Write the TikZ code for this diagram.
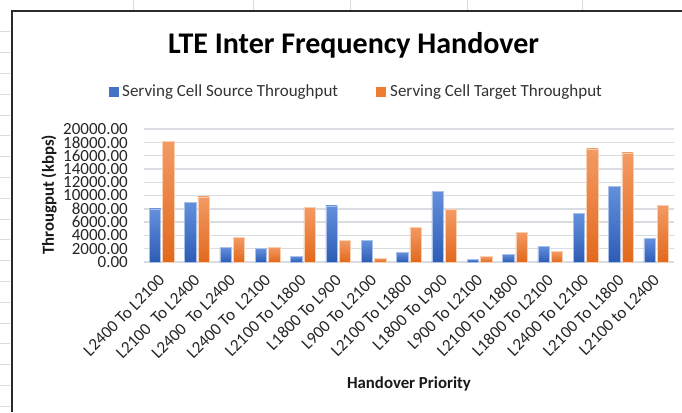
\documentclass[tikz,border=0pt]{standalone}
\usepackage{fontspec}
\setmainfont{Carlito}
\definecolor{gridgray}{HTML}{D9DCE1}
\definecolor{sheetgray}{HTML}{DADADA}
\definecolor{borderdark}{HTML}{2B2B2B}
\definecolor{bluetop}{HTML}{6390DC}
\definecolor{bluebot}{HTML}{2D5CB5}
\definecolor{blueedge}{HTML}{A9C0E8}
\definecolor{orangetop}{HTML}{F39A64}
\definecolor{orangebot}{HTML}{E2691D}
\definecolor{orangeedge}{HTML}{F9CFB2}
\definecolor{legblue}{HTML}{4472C4}
\definecolor{legorange}{HTML}{ED7D31}
\begin{document}
\begin{tikzpicture}[x=1pt,y=-1pt,
  grid/.style={draw=gridgray,line width=1.4pt},
  sheettick/.style={draw=sheetgray,line width=0.8pt},
  border/.style={draw=borderdark,line width=2pt},
  ticklbl/.style={anchor=east,inner sep=0pt,font=\fontsize{17}{17}\selectfont,text=black!85},
  catlbl/.style={anchor=east,rotate=45,inner sep=0pt,font=\fontsize{17}{17}\selectfont,text=black!85},
  axtitle/.style={font=\bfseries\fontsize{16.8}{16.8}\selectfont,inner sep=0pt,text=black!90},
  legtext/.style={anchor=west,inner sep=0pt,font=\fontsize{17}{17}\selectfont,text=black!80},
  legbox/.style={minimum size=10pt,inner sep=0pt,draw=none},
  bluebar/.style={top color=bluetop,bottom color=bluebot,draw=blueedge,line width=0.6pt},
  orangebar/.style={top color=orangetop,bottom color=orangebot,draw=orangeedge,line width=0.6pt}
]
\useasboundingbox (0,0) rectangle (682,412);
\fill[white] (0,0) rectangle (682,412);
% spreadsheet row/column ticks
\foreach \yy in {31.8,52.6,73.4,94.2,115,135.8,156.6,177.4,198.2,219,239.8,260.6,281.4,302.2,323,343.8,364.6,385.4,406.2}
  \draw[sheettick] (0,\yy) -- (10,\yy);
\foreach \xx in {133.5,253.5,350,467,582.6}
  \draw[sheettick] (\xx,0) -- (\xx,10);
% border
\draw[border] (12,412) -- (12,11) -- (682,11);
% title
\node[font=\bfseries\fontsize{30}{30}\selectfont,anchor=base,inner sep=0pt] (title) at (353.6,54) {LTE Inter Frequency Handover};
% legend
\node[legbox,fill=legblue] (lb1) at (114,92.3) {};
\node[legtext] (lt1) at (122,92.3) {Serving Cell Source Throughput};
\node[legbox,fill=legorange] (lb2) at (381.3,92.3) {};
\node[legtext] (lt2) at (390,92.3) {Serving Cell Target Throughput};
% gridlines and y labels
\foreach \v [count=\i from 0] in {0.00,2000.00,4000.00,6000.00,8000.00,10000.00,12000.00,14000.00,16000.00,18000.00,20000.00} {
  \draw[grid] (144,{262-\i*13.3}) -- (674,{262-\i*13.3});
  \node[ticklbl] (yt\i) at (128,{262-\i*13.3}) {\v};
}
% bars (values in thousands of kbps)
\foreach \b/\o [count=\k] in {8.0/18.1,9.0/9.8,2.15/3.65,2.0/2.25,0.9/8.25,8.45/3.2,3.2/0.6,1.5/5.25,10.65/7.9,0.45/0.8,1.2/4.5,2.4/1.55,7.25/17.0,11.4/16.4,3.55/8.55} {
  \pgfmathsetmacro{\c}{144+(\k-0.5)*35.33}
  \path[bluebar] ({\c-12.4},262) rectangle ({\c-1.1},{262-\b*6.65});
  \path[orangebar] ({\c+0.9},262) rectangle ({\c+12.2},{262-\o*6.65});
}
% category labels
\foreach \t [count=\k] in {L2400 To L2100,L2100\ \ To L2400,L2400\ \ To L2400,L2400 To\ \ L2100,L2100 To L1800,L1800 To L900,L900 To L2100,L2100 To L1800,L1800 To L900,L900 To L2100,L2100 To L1800,L1800 To L2100,L2400 To L2100,L2100 To L1800,L2100 to L2400} {
  \pgfmathsetmacro{\c}{144+(\k-0.5)*35.33}
  \node[catlbl] (cl\k) at ({\c+0.1},277.6) {\t};
}
% axis titles
\node[axtitle,rotate=90] (ytitle) at (49,195) {Througput (kbps)};
\node[axtitle] (xtitle) at (409,384) {Handover Priority};
\end{tikzpicture}
\end{document}
